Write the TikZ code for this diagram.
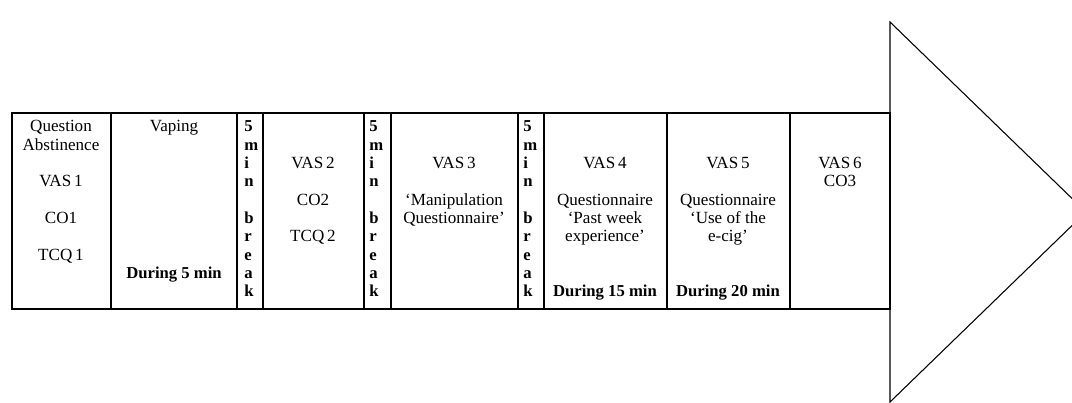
\documentclass[tikz,border=0pt]{standalone}
\usepackage{fontspec}
\setmainfont{Liberation Serif}
\begin{document}
\begin{tikzpicture}[x=0.75pt,y=-0.75pt,
  tbl/.style={line width=1.1pt},
  tri/.style={line width=0.8pt, line join=miter},
  txt/.style={anchor=base, inner sep=0pt, font=\fontsize{12.8}{14}\selectfont},
  btxt/.style={txt, font=\fontsize{12.5}{14}\selectfont\bfseries},
  brk/.style={anchor=base west, inner sep=0pt, font=\fontsize{12.5}{13.7}\selectfont\bfseries, align=left}]
\useasboundingbox (0,0) rectangle (1072,403);
% arrow head (triangle)
\coordinate (tA) at (890,22);
\coordinate (tB) at (1086,212);
\coordinate (tC) at (890,402);
\draw[tri] (tA) -- (tB) -- (tC) -- cycle;
% table
\draw[tbl] (12,113) rectangle (890,309);
\foreach \x in {111,237,263,364,391,518,544,667,790}
  \draw[tbl] (\x,113) -- (\x,309);
% column 1
\node[txt] (c1a) at (61,132) {Question};
\node[txt] (c1b) at (61,150.3) {Abstinence};
\node[txt] (c1c) at (61,186.9) {VAS\,1};
\node[txt] (c1d) at (61,223.5) {CO1};
\node[txt] (c1e) at (61,260.1) {TCQ\,1};
% column 2
\node[txt] (c2a) at (174,132) {Vaping};
\node[btxt] (c2b) at (174,278.4) {During 5 min};
% breaks
\foreach \bx/\nm in {244/b1,369/b2,523/b3}{
  \foreach \ch [count=\k from 0] in {5,m,i,n,,b,r,e,a,k}
    \node[brk] (\nm-\k) at (\bx,132+18.3*\k) {\ch};
}
% column 3
\node[txt] (c3a) at (313,168.6) {VAS\,2};
\node[txt] (c3b) at (313,205.2) {CO2};
\node[txt] (c3c) at (313,241.8) {TCQ\,2};
% column 4
\node[txt] (c4a) at (454,168.6) {VAS\,3};
\node[txt] (c4b) at (454,205.2) {‘Manipulation};
\node[txt] (c4c) at (454,223.5) {Questionnaire’};
% column 5
\node[txt] (c5a) at (605,168.6) {VAS\,4};
\node[txt] (c5b) at (605,205.2) {Questionnaire};
\node[txt] (c5c) at (605,223.5) {‘Past week};
\node[txt] (c5d) at (605,241.8) {experience’};
\node[btxt] (c5e) at (605,296.7) {During 15 min};
% column 6
\node[txt] (c6a) at (728,168.6) {VAS\,5};
\node[txt] (c6b) at (728,205.2) {Questionnaire};
\node[txt] (c6c) at (728,223.5) {‘Use of the};
\node[txt] (c6d) at (728,241.8) {e-cig’};
\node[btxt] (c6e) at (728,296.7) {During 20 min};
% column 7
\node[txt] (c7a) at (840,168.6) {VAS\,6};
\node[txt] (c7b) at (840,186.9) {CO3};
\end{tikzpicture}
\end{document}
